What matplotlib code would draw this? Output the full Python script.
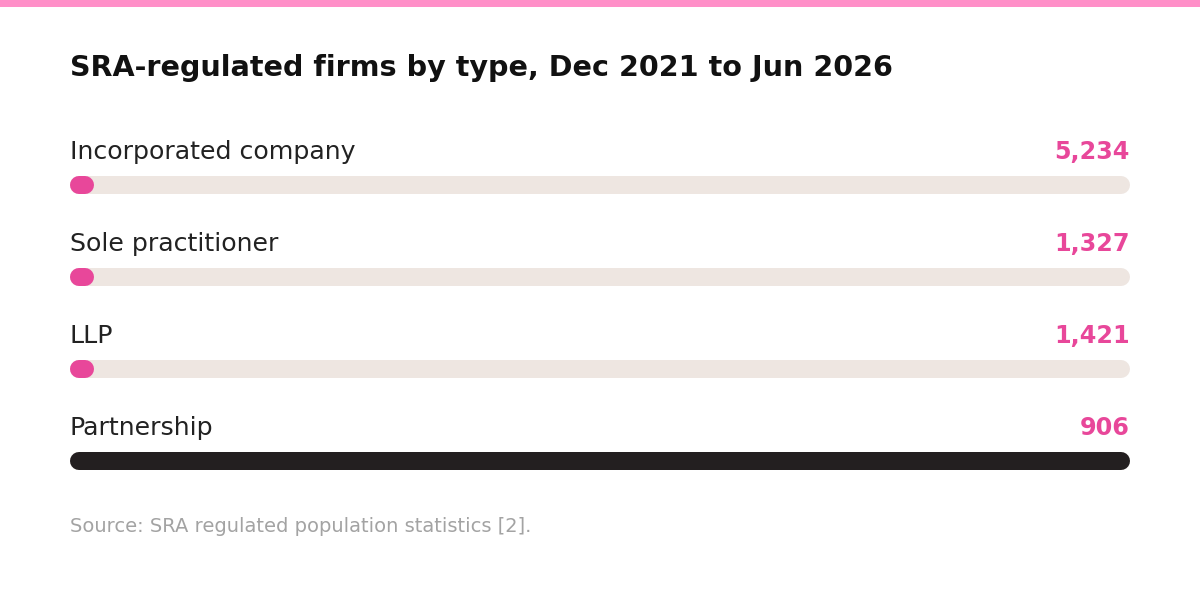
import matplotlib.pyplot as plt

# data
categories = ["Incorporated company", "Sole practitioner", "LLP", "Partnership"]
counts = [5234, 1327, 1421, 906]
fill_share = [0.0, 0.0, 0.0, 1.0]   # share of the track that is filled
fill_colors = ["#E8479A", "#E8479A", "#E8479A", "#231F20"]

title = "SRA-regulated firms by type, Dec 2021 to Jun 2026"
source = "Source: SRA regulated population statistics [2]."

W, H = 1200, 609
fig = plt.figure(figsize=(W / 100, H / 100), dpi=100)
ax = fig.add_axes([0, 0, 1, 1])
ax.set_xlim(0, W)
ax.set_ylim(H, 0)
ax.axis("off")

# pink strip on top
ax.fill_between([0, W], 0, 7, color="#FF8FC8", lw=0)

ax.text(70, 68, title, fontsize=20.6, fontweight="bold", color="#111111",
        va="center", ha="left", family="DejaVu Sans")

x0, x1 = 70, 1130
bar_h = 18
lw_pt = bar_h * 72 / 100
min_w = 24
row0, step = 152, 92

for i, (cat, n, f, c) in enumerate(zip(categories, counts, fill_share, fill_colors)):
    yl = row0 + i * step
    yb = yl + 33
    ax.text(x0, yl, cat, fontsize=18.2, color="#222222", va="center", ha="left",
            family="DejaVu Sans")
    ax.text(x1, yl, f"{n:,}", fontsize=17.2, fontweight="bold", color="#E8479A",
            va="center", ha="right", family="DejaVu Sans")
    r = bar_h / 2
    ax.plot([x0 + r, x1 - r], [yb, yb], color="#EEE6E1", lw=lw_pt,
            solid_capstyle="round")
    w = max(f * (x1 - x0), min_w)
    ax.plot([x0 + r, x0 + w - r], [yb, yb], color=c, lw=lw_pt,
            solid_capstyle="round")

ax.text(70, 527, source, fontsize=14, color="#A3A3A3", va="center", ha="left",
        family="DejaVu Sans")

fig.savefig("out.png", dpi=100, facecolor="white")
